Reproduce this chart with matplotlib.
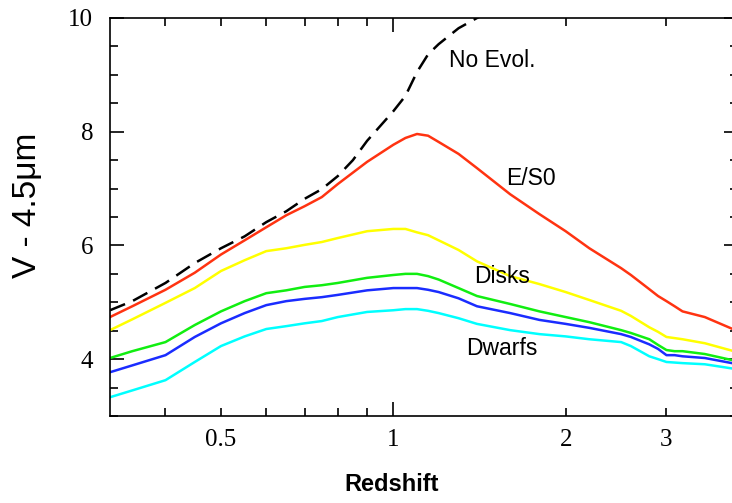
import numpy as np
from matplotlib import pyplot as plt
from matplotlib.ticker import FixedLocator, NullFormatter, FixedFormatter

# redshift grid shared by the model tracks
z = [0.32, 0.35, 0.4, 0.45, 0.5, 0.55, 0.6, 0.65, 0.7, 0.75, 0.8, 0.9, 1.0,
     1.05, 1.1, 1.15, 1.2, 1.3, 1.4, 1.6, 1.8, 2.0, 2.2, 2.5, 2.6, 2.8, 2.9,
     3.0, 3.1, 3.2, 3.5, 4.0]

# V - 4.5um colour of each model
es0 = [4.74, 4.93, 5.22, 5.52, 5.84, 6.09, 6.32, 6.53, 6.69, 6.85, 7.08, 7.47, 7.77,
       7.89, 7.96, 7.93, 7.82, 7.61, 7.36, 6.90, 6.55, 6.25, 5.95, 5.60, 5.48, 5.23, 5.11,
       5.02, 4.93, 4.84, 4.74, 4.49]
disks_yel = [4.51, 4.70, 4.99, 5.25, 5.55, 5.74, 5.90, 5.95, 6.01, 6.06, 6.13, 6.25, 6.29,
             6.29, 6.23, 6.18, 6.09, 5.92, 5.72, 5.46, 5.32, 5.18, 5.04, 4.85, 4.76, 4.56, 4.48,
             4.39, 4.37, 4.35, 4.28, 4.12]
disks_grn = [4.02, 4.14, 4.30, 4.60, 4.84, 5.02, 5.16, 5.21, 5.27, 5.30, 5.34, 5.43, 5.48,
             5.50, 5.50, 5.46, 5.40, 5.25, 5.11, 4.97, 4.84, 4.74, 4.65, 4.51, 4.46, 4.35, 4.25,
             4.16, 4.14, 4.14, 4.09, 3.96]
disks_blu = [3.77, 3.89, 4.07, 4.39, 4.63, 4.81, 4.95, 5.02, 5.06, 5.09, 5.13, 5.21, 5.25,
             5.25, 5.25, 5.22, 5.18, 5.07, 4.93, 4.81, 4.69, 4.62, 4.55, 4.44, 4.39, 4.26, 4.18,
             4.07, 4.07, 4.05, 4.02, 3.91]
dwarfs = [3.33, 3.45, 3.63, 3.95, 4.23, 4.40, 4.53, 4.58, 4.63, 4.67, 4.74, 4.83, 4.86,
          4.88, 4.88, 4.85, 4.81, 4.72, 4.62, 4.51, 4.44, 4.40, 4.35, 4.30, 4.23, 4.05, 4.00,
          3.95, 3.94, 3.93, 3.91, 3.82]

# no-evolution track leaves the top of the plot past z~1.4
z_noev = [0.32, 0.35, 0.4, 0.45, 0.5, 0.55, 0.6, 0.65, 0.7, 0.75, 0.8, 0.85, 0.9,
          1.0, 1.05, 1.1, 1.15, 1.2, 1.3, 1.4, 1.6]
noev = [4.86, 5.02, 5.34, 5.69, 5.95, 6.16, 6.41, 6.60, 6.82, 6.99, 7.22, 7.50, 7.84,
        8.36, 8.63, 9.05, 9.36, 9.54, 9.82, 10.0, 10.3]

tracks = [
    (es0, '#ff3311'),
    (disks_yel, '#ffff00'),
    (disks_grn, '#11ee11'),
    (disks_blu, '#1a2cff'),
    (dwarfs, '#00ffff'),
]

labels = [('No Evol.', 1.253, 9.26), ('E/S0', 1.577, 7.17),
          ('Disks', 1.386, 5.46), ('Dwarfs', 1.342, 4.19)]

xtick_minor = [0.4, 0.5, 0.6, 0.7, 0.8, 0.9, 2, 3, 4]
xtick_minor_lbl = ['', '0.5', '', '', '', '', '2', '3', '']

fig = plt.figure(figsize=(7.32, 5.03), dpi=100)
ax = fig.add_axes([110 / 732, 87 / 503, 628 / 732, 398 / 503])
ax.set_xscale('log')

for vals, col in tracks:
    ax.plot(z, vals, color=col, lw=1.8, solid_joinstyle='round')
ax.plot(z_noev, noev, color='black', lw=1.8, dashes=(6.5, 3.5))

sans = 'Liberation Sans'
for txt, xx, yy in labels:
    ax.text(xx, yy, txt, fontsize=16.5, family=sans, ha='left', va='center')

ax.set_xlim(0.32, 4.0)
ax.set_ylim(3, 10)

ax.xaxis.set_major_locator(FixedLocator([1]))
ax.xaxis.set_major_formatter(FixedFormatter(['1']))
ax.xaxis.set_minor_locator(FixedLocator(xtick_minor))
ax.xaxis.set_minor_formatter(FixedFormatter(xtick_minor_lbl))
ax.set_yticks([4, 6, 8, 10])
ax.yaxis.set_minor_locator(FixedLocator(np.arange(3, 10.01, 0.5)))
ax.yaxis.set_minor_formatter(NullFormatter())

ax.tick_params(which='both', direction='in', top=True, right=True, width=1.2,
               colors='black')
ax.tick_params(which='major', length=10)
ax.tick_params(which='minor', length=5.5)
ax.tick_params(axis='y', which='both', pad=12)
ax.tick_params(axis='x', which='both', pad=9)
for lbl in ax.get_xticklabels(which='both') + ax.get_yticklabels():
    lbl.set_family('Liberation Serif')
    lbl.set_fontsize(18)

for sp in ax.spines.values():
    sp.set_linewidth(1.2)

ax.set_xlabel('Redshift', fontsize=17, family=sans, fontweight='bold', va='center')
ax.xaxis.set_label_coords(0.449, -0.173)
ax.set_ylabel('V - 4.5\u03bcm', fontsize=24, family=sans, va='center')
ax.yaxis.set_label_coords(-0.1306, 0.53)

plt.savefig('out.png', dpi=100)
plt.close()
